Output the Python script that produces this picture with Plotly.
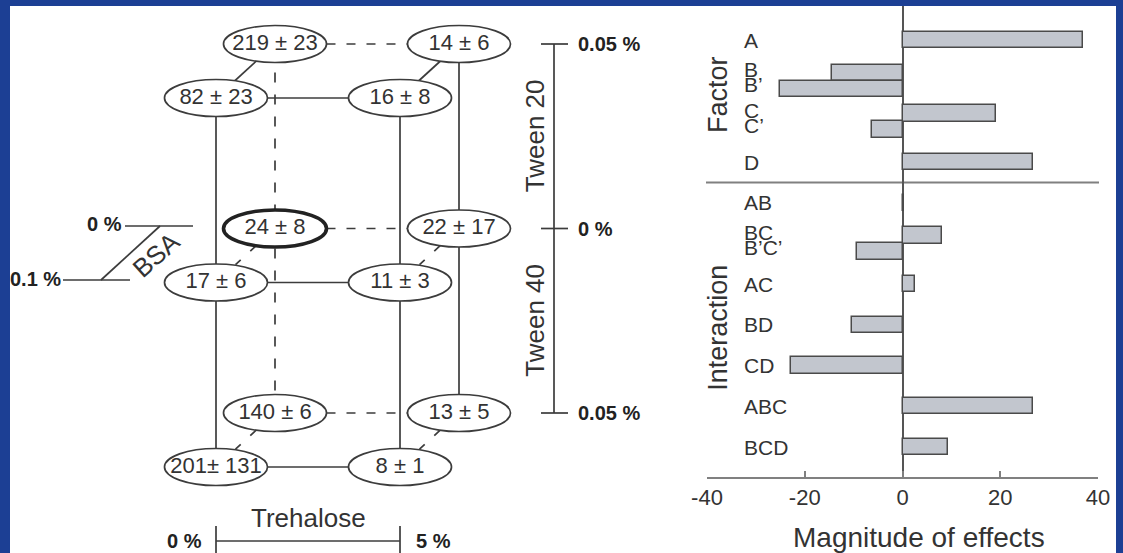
import plotly.graph_objects as go

# ---------------- data ----------------
# Cube of the 2^3 design plus centre row.  Each row lists the responses for
# [BSA 0 % / Trehalose 0 %, BSA 0 % / Trehalose 5 %, BSA 0.1 % / Trehalose 0 %, BSA 0.1 % / Trehalose 5 %]
tween20_mean = [219, 14, 82, 16]
tween20_sd = [23, 6, 23, 8]
no_tween_mean = [24, 22, 17, 11]
no_tween_sd = [8, 17, 6, 3]
tween40_mean = [140, 13, 201, 8]
tween40_sd = [6, 5, 131, 1]

trehalose_levels = ["0 %", "5 %"]
bsa_levels = ["0 %", "0.1 %"]
tween_levels = ["0.05 %", "0 %", "0.05 %"]
tween_names = ["Tween 20", "Tween 40"]

factor_labels = ["A", "B", "B\u2019", "C", "C\u2019", "D"]
factor_effects = [37.0, -14.5, -25.0, 19.2, -6.3, 26.8]
interaction_labels = ["AB", "BC", "B\u2019C\u2019", "AC", "BD", "CD", "ABC", "BCD"]
interaction_effects = [0.4, 8.0, -9.4, 2.5, -10.4, -22.9, 26.8, 9.3]
effect_ticks = [-40, -20, 0, 20, 40]
effect_tick_text = ["-40", "-20", "0", "20", "40"]

# ---------------- layout constants ----------------
W, H = 1123, 553
BLUE = "#1c3f94"
INK = "#333333"
LINE = "#3c3c3c"
SANS = "Liberation Sans, Arial, sans-serif"

# cube projection (left panel uses a pixel-like coordinate system)
X0, Y0 = 216, 98          # front-left node of the top row
DX, DY = 184, 184.5       # trehalose step, tween-row step
DEPTH = (59, -54)         # offset of the BSA 0 % (back) plane
EA, EB = 51.5, 18.5       # ellipse semi-axes


def node_xy(row, bsa, treh):
    x = X0 + DX * treh + DEPTH[0] * (1 - bsa)
    y = Y0 + DY * row + DEPTH[1] * (1 - bsa)
    return x, y


def fmt(m, s):
    sep = "\u00b1 " if len(str(m)) + len(str(s)) > 5 else " \u00b1 "
    return f"{m}{sep}{s}"


rows = [(tween20_mean, tween20_sd), (no_tween_mean, no_tween_sd), (tween40_mean, tween40_sd)]

shapes = []
annotations = []

# white panel inside the blue frame
shapes.append(dict(type="rect", xref="paper", yref="paper", x0=10 / W, x1=1116 / W,
                   y0=0, y1=1 - 6 / H, fillcolor="white", line=dict(width=0), layer="below"))


def edge_pts(p, q):
    """end points of segment p->q clipped to both ellipse outlines"""
    dx, dy = q[0] - p[0], q[1] - p[1]
    t = 1 / ((dx / EA) ** 2 + (dy / EB) ** 2) ** 0.5
    return (p[0] + t * dx, p[1] + t * dy), (q[0] - t * dx, q[1] - t * dy)


def add_edge(p, q, dash=None):
    a, b = edge_pts(p, q) if dash else (p, q)
    shapes.append(dict(type="line", xref="x", yref="y", x0=a[0], y0=a[1], x1=b[0], y1=b[1],
                       line=dict(color=LINE, width=1.7, dash=dash or "solid"), layer="below"))


# cube edges
for r in range(3):
    for bsa in range(2):
        add_edge(node_xy(r, bsa, 0), node_xy(r, bsa, 1), None if bsa == 1 else "9px,11px")
    for treh in range(2):
        add_edge(node_xy(r, 0, treh), node_xy(r, 1, treh), None if r == 0 else "8px,13px,7px")
for bsa in range(2):
    for treh in range(2):
        hidden = bsa == 0 and treh == 0
        p, q = node_xy(0, bsa, treh), node_xy(2, bsa, treh)
        if hidden:
            p = (p[0], p[1] + EB + 10)
            q = (q[0], q[1] - EB)
        shapes.append(dict(type="line", xref="x", yref="y", x0=p[0], y0=p[1], x1=q[0], y1=q[1],
                           line=dict(color=LINE, width=1.7, dash="10px,12px" if hidden else "solid"),
                           layer="below"))

# node ellipses and labels
node_x, node_y, node_text = [], [], []
for r, (means, sds) in enumerate(rows):
    for i, (m, s) in enumerate(zip(means, sds)):
        bsa, treh = divmod(i, 2)
        x, y = node_xy(r, bsa, treh)
        centre_point = (r == 1 and bsa == 0 and treh == 0)
        shapes.append(dict(type="circle", xref="x", yref="y", x0=x - EA, x1=x + EA,
                           y0=y - EB, y1=y + EB, fillcolor="white",
                           line=dict(color="#222222" if centre_point else LINE,
                                     width=3.6 if centre_point else 1.7),
                           layer="below"))
        node_x.append(x)
        node_y.append(y)
        node_text.append(fmt(m, s))

# Tween scale (right of cube)
SX = 554
row_y = [node_xy(r, 0, 0)[1] for r in range(3)]
shapes.append(dict(type="line", xref="x", yref="y", x0=SX, x1=SX, y0=row_y[0], y1=row_y[2],
                   line=dict(color=LINE, width=1.7), layer="below"))
for y, lab in zip(row_y, tween_levels):
    shapes.append(dict(type="line", xref="x", yref="y", x0=SX - 13, x1=SX + 14, y0=y, y1=y,
                       line=dict(color=LINE, width=1.7), layer="below"))
    annotations.append(dict(xref="x", yref="y", x=SX + 22, y=y, text=f"<b>{lab}</b>",
                            showarrow=False, xanchor="left", yanchor="middle",
                            font=dict(family=SANS, size=20, color="#222222")))
for k, name in enumerate(tween_names):
    annotations.append(dict(xref="x", yref="y", x=SX - 19, y=(row_y[k] + row_y[k + 1]) / 2,
                            text=name, textangle=-90, showarrow=False,
                            xanchor="center", yanchor="middle",
                            font=dict(family=SANS, size=26, color=INK)))

# Trehalose scale (below cube)
TY = 541
tx0, tx1 = node_xy(2, 1, 0)[0], node_xy(2, 1, 1)[0]
shapes.append(dict(type="line", xref="x", yref="y", x0=tx0, x1=tx1, y0=TY, y1=TY,
                   line=dict(color=LINE, width=1.7), layer="below"))
for x in (tx0, tx1):
    shapes.append(dict(type="line", xref="x", yref="y", x0=x, x1=x, y0=TY - 15, y1=TY + 15,
                       line=dict(color=LINE, width=1.7), layer="below"))
annotations.append(dict(xref="x", yref="y", x=(tx0 + tx1) / 2, y=TY - 23, text="Trehalose",
                        showarrow=False, xanchor="center", yanchor="middle",
                        font=dict(family=SANS, size=26, color=INK)))
annotations.append(dict(xref="x", yref="y", x=tx0 - 12, y=TY, text=f"<b>{trehalose_levels[0]}</b>",
                        showarrow=False, xanchor="right", yanchor="middle",
                        font=dict(family=SANS, size=20, color="#222222")))
annotations.append(dict(xref="x", yref="y", x=tx1 + 14, y=TY, text=f"<b>{trehalose_levels[1]}</b>",
                        showarrow=False, xanchor="left", yanchor="middle",
                        font=dict(family=SANS, size=20, color="#222222")))

# BSA scale (left of cube)
b_back_y, b_front_y = 226, 280
shapes.append(dict(type="line", xref="x", yref="y", x0=125, x1=193, y0=b_back_y, y1=b_back_y,
                   line=dict(color=LINE, width=1.7), layer="below"))
shapes.append(dict(type="line", xref="x", yref="y", x0=63, x1=130, y0=b_front_y, y1=b_front_y,
                   line=dict(color=LINE, width=1.7), layer="below"))
shapes.append(dict(type="line", xref="x", yref="y", x0=160, x1=160 - DEPTH[0], y0=b_back_y,
                   y1=b_front_y, line=dict(color=LINE, width=1.7), layer="below"))
annotations.append(dict(xref="x", yref="y", x=124, y=b_back_y - 2, text=f"<b>{bsa_levels[0]}</b>",
                        showarrow=False, xanchor="right", yanchor="middle",
                        font=dict(family=SANS, size=20, color="#222222")))
annotations.append(dict(xref="x", yref="y", x=63, y=b_front_y - 1, text=f"<b>{bsa_levels[1]}</b>",
                        showarrow=False, xanchor="right", yanchor="middle",
                        font=dict(family=SANS, size=20, color="#222222")))
annotations.append(dict(xref="x", yref="y", x=156, y=255, text="BSA", textangle=-42,
                        showarrow=False, xanchor="center", yanchor="middle",
                        font=dict(family=SANS, size=26, color=INK)))

# ---------------- effects panel ----------------
PAIR = 0.197
BAR_W = 0.4


def slot_positions(labels, start):
    pos, slot = [], start - 1
    for lab in labels:
        if "\u2019" in lab:
            pos[-1] = slot - PAIR
            pos.append(slot + PAIR)
        else:
            slot += 1
            pos.append(slot)
    return pos, slot


factor_pos, last = slot_positions(factor_labels, 0)
inter_pos, last2 = slot_positions(interaction_labels, last + 1)

fig = go.Figure()
fig.add_trace(go.Scatter(x=node_x, y=node_y, mode="text", text=node_text,
                         textposition="middle center",
                         textfont=dict(family=SANS, size=22, color=INK),
                         hoverinfo="skip", showlegend=False, xaxis="x", yaxis="y"))

bar_style = dict(orientation="h", width=BAR_W, marker=dict(color="#c2c6ce",
                 line=dict(color="#4a4a4a", width=1.5)), showlegend=False,
                 xaxis="x2", yaxis="y2", hoverinfo="skip")
fig.add_trace(go.Bar(x=factor_effects, y=factor_pos, **bar_style))
fig.add_trace(go.Bar(x=interaction_effects, y=inter_pos, **bar_style))

for lab, y in list(zip(factor_labels, factor_pos)) + list(zip(interaction_labels, inter_pos)):
    yshift = 0
    if lab.endswith("\u2019"):
        yshift = 4          # primed label tucked up under its partner
    elif y != round(y):
        yshift = 3
    annotations.append(dict(xref="paper", yref="y2", x=742 / W, y=y, yshift=yshift,
                            text=lab, showarrow=False, xanchor="left", yanchor="middle",
                            font=dict(family=SANS, size=21, color=INK)))

annotations.append(dict(xref="paper", yref="y2", x=718 / W, y=1.35, text="Factor",
                        textangle=-90, showarrow=False, xanchor="center", yanchor="middle",
                        font=dict(family=SANS, size=27, color=INK)))
annotations.append(dict(xref="paper", yref="y2", x=718 / W, y=7.07, text="Interaction",
                        textangle=-90, showarrow=False, xanchor="center", yanchor="middle",
                        font=dict(family=SANS, size=27, color=INK)))
annotations.append(dict(xref="x2", yref="paper", x=3.3, y=1 - 537 / H, text="Magnitude of effects",
                        showarrow=False, xanchor="center", yanchor="middle",
                        font=dict(family=SANS, size=28, color=INK)))

# separator between main factors and interactions
shapes.append(dict(type="line", xref="paper", yref="y2", x0=706 / W, x1=1099 / W,
                   y0=last + 0.5, y1=last + 0.5, line=dict(color="#808080", width=2),
                   layer="below"))

SLOT_PX = 40.7
top_slot = (6 - 40) / SLOT_PX
bot_slot = (477 - 40) / SLOT_PX

fig.update_layout(
    width=W, height=H,
    margin=dict(l=0, r=0, t=0, b=0, autoexpand=False),
    paper_bgcolor=BLUE,
    plot_bgcolor="rgba(0,0,0,0)",
    bargap=0,
    shapes=shapes,
    annotations=annotations,
    xaxis=dict(domain=[0, 1], range=[0, W], visible=False, fixedrange=True, automargin=False),
    yaxis=dict(domain=[0, 1], range=[H, 0], visible=False, fixedrange=True, automargin=False),
    xaxis2=dict(domain=[707 / W, 1098 / W], range=[-40, 40], anchor="y2",
                tickvals=effect_ticks, ticktext=effect_tick_text,
                ticks="inside", ticklen=6, tickwidth=1.5, tickcolor="#808080",
                showline=True, linecolor="#808080", linewidth=2,
                showgrid=False, zeroline=True, zerolinecolor="#555555", zerolinewidth=2,
                tickfont=dict(family=SANS, size=22, color=INK), fixedrange=True,
                automargin=False),
    yaxis2=dict(domain=[1 - 477 / H, 1 - 6 / H], range=[bot_slot, top_slot], anchor="x2",
                visible=False, fixedrange=True, automargin=False),
)

fig.write_html("out.html")
